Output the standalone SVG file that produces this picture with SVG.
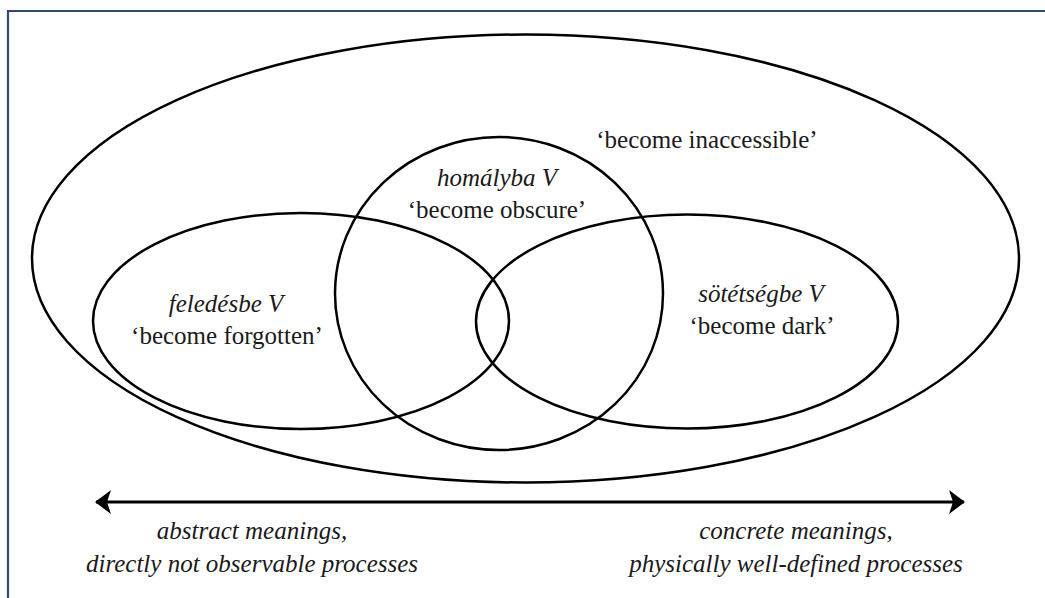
<svg xmlns="http://www.w3.org/2000/svg" width="1045" height="598" viewBox="0 0 1045 598">
<style>
.sh{fill:none;stroke:#000;stroke-width:2.5}
text{font-family:'Liberation Serif','Times New Roman',serif;font-size:25px;fill:#1a1a1a;text-anchor:middle}
.i{font-style:italic}
.frame{fill:none;stroke:#2f4b6e;stroke-width:2.2}
</style>
<defs>
<marker id="ah" viewBox="0 0 16 24" refX="15" refY="12" markerWidth="16" markerHeight="24" markerUnits="userSpaceOnUse" orient="auto-start-reverse">
<path d="M0,0 L16,12 L0,24 L4,12 Z" fill="#000"/>
</marker>
</defs>
<rect width="1045" height="598" fill="#fff"/>
<path class="frame" d="M8,598 L8,11 L1045,11"/>
<g id="outer">
<ellipse class="sh" cx="525.5" cy="258.5" rx="493.5" ry="224"/>
<text x="707" y="148">‘become inaccessible’</text>
</g>
<g id="feledesbe">
<ellipse class="sh" cx="301" cy="321" rx="208" ry="108"/>
<text class="i" x="226" y="312">feledésbe V</text>
<text x="227" y="344">‘become forgotten’</text>
</g>
<g id="sotetsegbe">
<ellipse class="sh" cx="687" cy="321.5" rx="211" ry="107"/>
<text class="i" x="761" y="302">sötétségbe V</text>
<text x="762" y="334">‘become dark’</text>
</g>
<g id="homalyba">
<ellipse class="sh" cx="499" cy="293.5" rx="164" ry="156.5"/>
<text class="i" x="497" y="186">homályba V</text>
<text x="497" y="218">‘become obscure’</text>
</g>
<g id="connectors">
<line x1="96" y1="502" x2="964" y2="502" stroke="#000" stroke-width="3" marker-start="url(#ah)" marker-end="url(#ah)"/>
</g>
<g id="axis-labels">
<text class="i" x="252" y="539">abstract meanings,</text>
<text class="i" x="252" y="572">directly not observable processes</text>
<text class="i" x="796" y="539">concrete meanings,</text>
<text class="i" x="796" y="572">physically well-defined processes</text>
</g>
</svg>
